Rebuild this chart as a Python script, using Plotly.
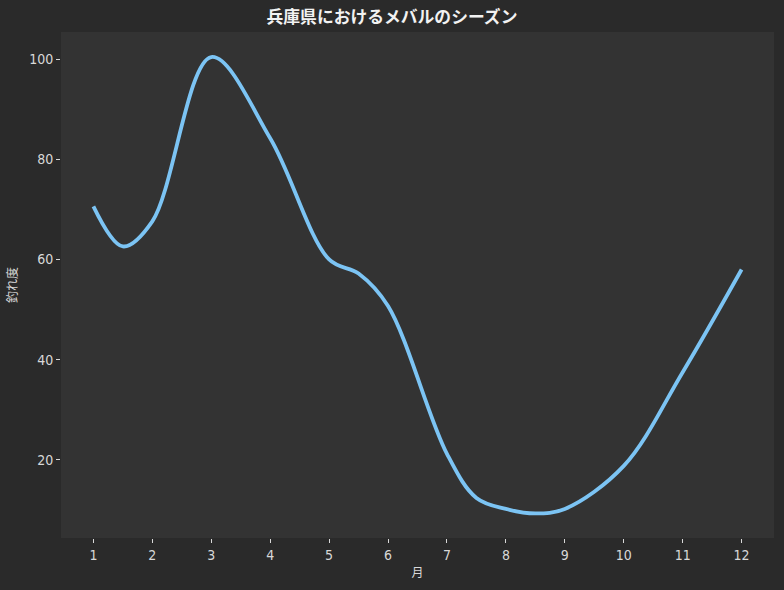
import plotly.graph_objects as go

months = [1, 1.5, 2, 3, 4, 5, 5.5, 6, 7, 7.5, 8, 8.5, 9, 10, 11, 12]
catch_level = [70.6, 62.6, 67.6, 100.4, 84.2, 60.0, 57.2, 50.7, 21.2, 12.4,
               10.2, 9.3, 10.2, 18.8, 37.5, 58.0]
tick_vals = list(range(1, 13))
tick_text = [str(m) for m in tick_vals]

title_text = "兵庫県におけるメバルのシーズン"
x_label = "月"
y_label = "釣れ度"

tick_family = "DejaVu Sans Condensed"
cjk_family = "Noto Sans CJK JP, sans-serif"

fig = go.Figure()
fig.add_trace(go.Scatter(
    x=months, y=catch_level, mode="lines",
    line=dict(color="#7cc4f4", width=3.8, shape="spline", smoothing=1.0),
    showlegend=False, hoverinfo="skip",
))

fig.update_layout(
    width=784, height=590,
    paper_bgcolor="#2a2a2a", plot_bgcolor="#333333",
    margin=dict(l=61, r=10, t=32, b=52),
    title=dict(text="<b>" + title_text + "</b>", x=0.5, xanchor="center",
               y=1 - 17 / 590, yanchor="middle",
               font=dict(family=cjk_family, size=16.8, color="#f2f2f2")),
    font=dict(family=tick_family, color="#d8d8d8", size=12),
)
fig.update_xaxes(
    range=[0.45, 12.55], tickmode="array", tickvals=tick_vals, ticktext=tick_text,
    showgrid=False, zeroline=False, showline=False,
    ticks="outside", ticklen=4, tickwidth=1, tickcolor="#d8d8d8",
    tickfont=dict(family=tick_family, size=14, color="#d8d8d8"),
    title=dict(text=x_label, font=dict(family=cjk_family, size=12, color="#d8d8d8"), standoff=6),
)
fig.update_yaxes(
    range=[4.4, 105.4], tickmode="array", tickvals=[20, 40, 60, 80, 100],
    showgrid=False, zeroline=False, showline=False,
    ticks="outside", ticklen=4, tickwidth=1, tickcolor="#d8d8d8",
    tickfont=dict(family=tick_family, size=14, color="#d8d8d8"),
    title=dict(text=y_label, font=dict(family=cjk_family, size=12, color="#d8d8d8"), standoff=8),
)

fig.write_html("out.html", config={"displayModeBar": False},
               post_script="document.body.style.margin='0px';document.body.style.background='#2a2a2a';")
